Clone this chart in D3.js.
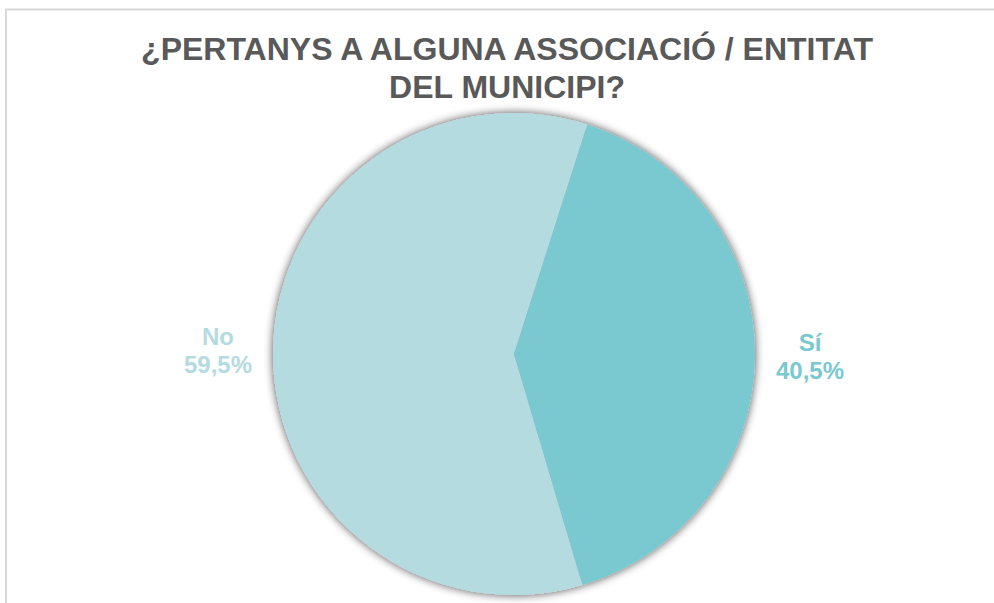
<!DOCTYPE html>
<html>
<head>
<meta charset="utf-8">
<script src="https://cdn.jsdelivr.net/npm/d3@7"></script>
<style>
  html, body { margin: 0; padding: 0; background: #fff; }
  svg { display: block; }
</style>
</head>
<body>
<div id="chart"></div>
<script>
// chart values
var categories = ["Sí", "No"];
var values = [40.5, 59.5];
var colors = ["#7ac8d0", "#b4dbe0"];
var titleLines = ["¿PERTANYS A ALGUNA ASSOCIACIÓ / ENTITAT", "DEL MUNICIPI?"];

var width = 994, height = 603;
var cx = 514, cy = 354, radius = 241;
var startAngle = 17.7 * Math.PI / 180;

var svg = d3.select("#chart").append("svg")
  .attr("width", width)
  .attr("height", height);

// chart frame (runs off the right and bottom edge)
svg.append("rect")
  .attr("x", 6).attr("y", 9.5)
  .attr("width", width + 20).attr("height", height + 20)
  .attr("fill", "#fff")
  .attr("stroke", "#d9d9d9")
  .attr("stroke-width", 2);

// soft shadow around the pie
var defs = svg.append("defs");
var filter = defs.append("filter").attr("id", "pieShadow")
  .attr("x", "-10%").attr("y", "-10%").attr("width", "120%").attr("height", "120%");
filter.append("feGaussianBlur").attr("in", "SourceAlpha").attr("stdDeviation", 5).attr("result", "blur");
filter.append("feOffset").attr("in", "blur").attr("dx", 0).attr("dy", 0).attr("result", "off");
filter.append("feComponentTransfer").attr("in", "off").attr("result", "shadow")
  .append("feFuncA").attr("type", "linear").attr("slope", 0.7);
var merge = filter.append("feMerge");
merge.append("feMergeNode").attr("in", "shadow");
merge.append("feMergeNode").attr("in", "SourceGraphic");

// title
svg.append("text")
  .attr("x", 507)
  .attr("text-anchor", "middle")
  .style("font-family", "'Liberation Sans', Arial, sans-serif")
  .style("font-weight", "bold")
  .style("font-size", "32px")
  .attr("fill", "#595959")
  .selectAll("tspan")
  .data(titleLines)
  .enter()
  .append("tspan")
  .attr("x", 507)
  .attr("y", function (d, i) { return 60 + i * 38; })
  .text(function (d) { return d; });

var data = categories.map(function (c, i) { return { name: c, value: values[i], color: colors[i] }; });

var pie = d3.pie()
  .sort(null)
  .value(function (d) { return d.value; })
  .startAngle(startAngle)
  .endAngle(startAngle + 2 * Math.PI);

var arc = d3.arc().innerRadius(0).outerRadius(radius);

var g = svg.append("g")
  .attr("transform", "translate(" + cx + "," + cy + ")");

g.append("g")
  .attr("filter", "url(#pieShadow)")
  .selectAll("path")
  .data(pie(data))
  .enter()
  .append("path")
  .attr("d", arc)
  .attr("fill", function (d) { return d.data.color; });

// outside labels
var labelArc = d3.arc().innerRadius(radius + 55).outerRadius(radius + 55);
var fmt = function (v) { return d3.format(".1f")(v).replace(".", ",") + "%"; };

var labels = g.selectAll("text.lbl")
  .data(pie(data))
  .enter()
  .append("text")
  .attr("class", "lbl")
  .attr("text-anchor", "middle")
  .style("font-family", "'Liberation Sans', Arial, sans-serif")
  .style("font-weight", "bold")
  .style("font-size", "24px")
  .attr("fill", function (d) { return d.data.color; })
  .attr("transform", function (d) {
    var c = labelArc.centroid(d);
    return "translate(" + c[0] + "," + (c[1] - 4) + ")";
  });

labels.append("tspan")
  .attr("x", 0).attr("dy", "-0.1em")
  .text(function (d) { return d.data.name; });
labels.append("tspan")
  .attr("x", 0).attr("dy", "1.2em")
  .text(function (d) { return fmt(d.data.value); });
</script>
</body>
</html>
